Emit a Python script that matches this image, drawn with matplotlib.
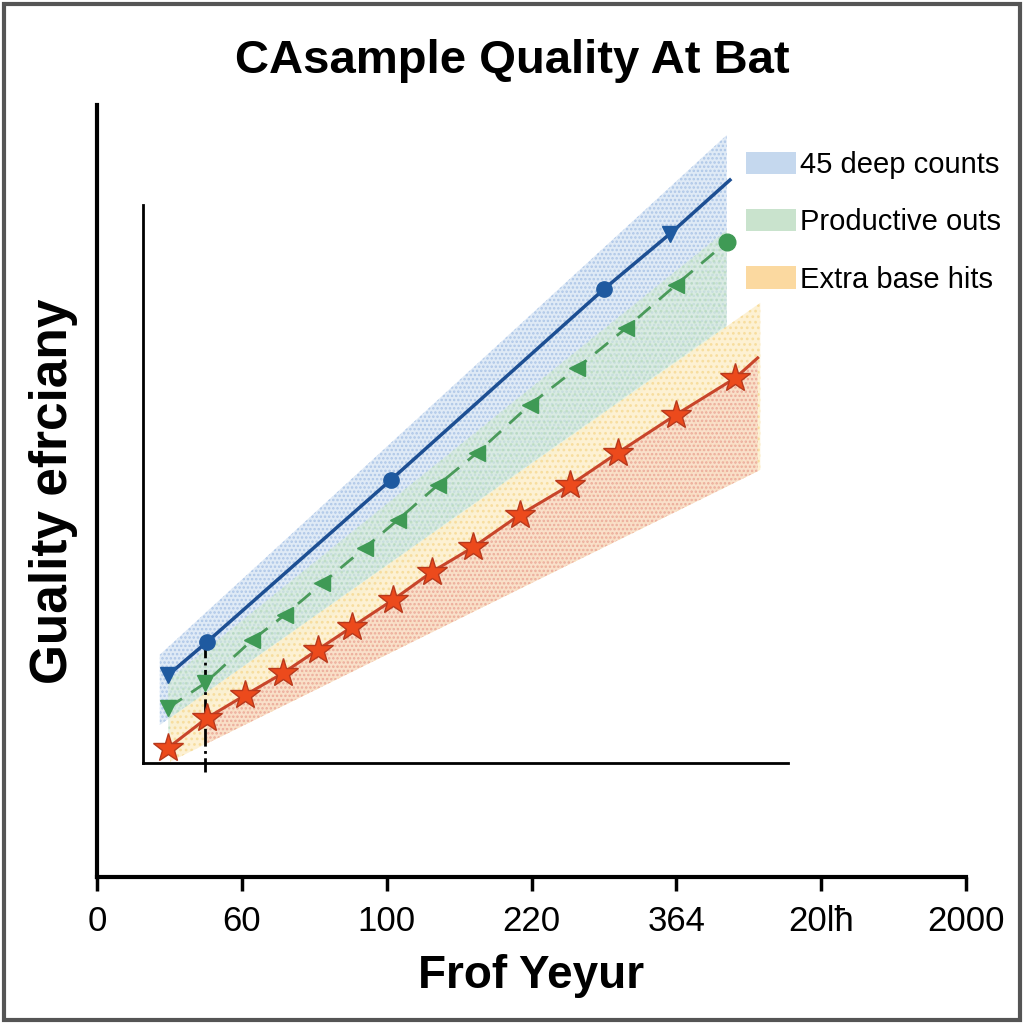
import numpy as np
import matplotlib
matplotlib.use("Agg")
import matplotlib.pyplot as plt
from matplotlib.patches import Patch, Rectangle

plt.rcParams['font.family'] = ['Liberation Sans', 'DejaVu Sans']
plt.rcParams['hatch.linewidth'] = 1.2

# outer axis tick labels
outer_ticks = ['0', '60', '100', '220', '364', '20l\u0127', '2000']

# series (inner plot units)
blue_x = [3.9, 9.9, 38.4, 71.5, 81.7, 91.0]
blue_y = [13.9, 19.1, 44.7, 74.9, 83.6, 92.1]
blue_m = ['v', 'o', 'o', 'o', 'v', None]

green_x = [3.9, 9.6, 16.9, 22.0, 27.8, 34.4, 39.5, 45.7, 51.8, 60.0, 67.3, 74.9, 82.6, 90.5]
green_y = [8.7, 12.6, 19.4, 23.4, 28.4, 34.0, 38.4, 43.9, 49.0, 56.6, 62.4, 68.7, 75.5, 82.3]
green_m = ['v', 'v', '<', '<', '<', '<', '<', '<', '<', '<', '<', '<', '<', 'o']

red_x = [3.9, 9.9, 15.8, 21.7, 27.1, 32.4, 38.8, 44.8, 51.2, 58.4, 66.2, 73.6, 82.6, 91.8, 95.3]
red_y = [2.4, 7.1, 10.7, 14.2, 17.9, 21.5, 25.8, 30.2, 34.1, 39.2, 43.9, 49.0, 55.0, 60.8, 64.0]

# shaded bands: [start, end]
blue_band_x = [2.6, 90.5]
blue_band_hi = [17.1, 99.2]
blue_band_lo = [6.0, 69.2]
green_band_x = [3.9, 90.5]
green_band_hi = [13.1, 84.2]
green_band_lo = [4.4, 68.4]
orange_band_x = [4.2, 95.7]
orange_band_hi = [7.1, 72.7]
orange_band_lo = [0.2, 46.3]

legend_labels = ['45 deep counts', 'Productive outs', 'Extra base hits']
legend_colors = ['#c5d8ee', '#c9e3cd', '#fbd9a0']

W = 1024
fig = plt.figure(figsize=(10.24, 10.24), dpi=100)
fig.patches.append(Rectangle((0.004, 0.004), 0.992, 0.992, transform=fig.transFigure,
                             fill=False, edgecolor='#555555', linewidth=3))

fig.text(0.5, 0.94, 'CAsample Quality At Bat', ha='center', va='center',
         fontsize=34, fontweight='bold')

# outer axes
ax0 = fig.add_axes([97 / W, (W - 877) / W, (966 - 97) / W, (877 - 105) / W])
ax0.set_xlim(0, 6)
ax0.set_ylim(0, 1)
ax0.set_xticks(range(7))
ax0.set_xticklabels(outer_ticks, fontsize=25)
ax0.set_yticks([])
for s in ['top', 'right']:
    ax0.spines[s].set_visible(False)
for s in ['left', 'bottom']:
    ax0.spines[s].set_linewidth(3)
ax0.tick_params(axis='x', length=10, width=2.5, pad=10)
ax0.set_xlabel('Frof Yeyur', fontsize=33, fontweight='bold', labelpad=12)
ax0.set_ylabel('Guality efrciany', fontsize=37, fontweight='bold', labelpad=14)
ax0.patch.set_alpha(0)

# inner axes
ax = fig.add_axes([143 / W, (W - 763) / W, (800 - 143) / W, (763 - 130) / W])
ax.set_xlim(0, 100 * 657 / 645)
ax.set_ylim(0, 100)
ax.patch.set_alpha(0)
ax.set_xticks([])
ax.set_yticks([])
for s in ['top', 'right']:
    ax.spines[s].set_visible(False)
ax.spines['left'].set_bounds(0, (763 - 205) / 6.33)
ax.spines['bottom'].set_bounds(0, 100)
for s in ['left', 'bottom']:
    ax.spines[s].set_linewidth(2)

ax.fill_between(blue_band_x, blue_band_lo, blue_band_hi, facecolor='#dce8f6',
                edgecolor='#a9c3e6', hatch='....', linewidth=0, alpha=0.9)
ax.fill_between(green_band_x, green_band_lo, green_band_hi, facecolor='#d6ecd6',
                edgecolor='#b2d8b8', hatch='...', linewidth=0, alpha=0.6)
ax.fill_between(orange_band_x, orange_band_lo, orange_band_hi, facecolor='#fdf0cf',
                edgecolor='#f7dc9a', hatch='...', linewidth=0, alpha=0.9)
rx = np.array(red_x)
olo = np.interp(rx, orange_band_x, orange_band_lo)
ax.fill_between(rx[1:], olo[1:], red_y[1:], facecolor='#f9dcc8',
                edgecolor='#e9a090', hatch='....', linewidth=0, alpha=0.8)

# vertical dash-dot marker line
ax.plot([9.6, 9.6], [19.4, -1.5], color='black', linestyle='-.', linewidth=2, clip_on=False)

ax.plot(blue_x, blue_y, color='#1d4f93', linewidth=2.5, clip_on=False)
for x, y, m in zip(blue_x, blue_y, blue_m):
    if m:
        ax.plot(x, y, marker=m, color='#1f5aa0', markersize=11, clip_on=False)

ax.plot(green_x, green_y, color='#4a9a5a', linewidth=2, linestyle=(0, (6, 4)), clip_on=False)
for x, y, m in zip(green_x, green_y, green_m):
    ax.plot(x, y, marker=m, color='#3f9a55', markersize=12, clip_on=False)

ax.plot(red_x, red_y, color='#c8452a', linewidth=2.2, clip_on=False)
ax.plot(red_x[:-1], red_y[:-1], linestyle='none', marker='*', markersize=22,
        markerfacecolor='#ec4a1c', markeredgecolor='#b8391c', clip_on=False)

handles = [Patch(facecolor=c, edgecolor='none') for c in legend_colors]
fig.legend(handles, legend_labels, loc='upper left', bbox_to_anchor=(720 / W, 1 - 125 / W),
           frameon=False, fontsize=21, handlelength=1.7, handleheight=0.8,
           labelspacing=1.0, handletextpad=0.15)

fig.savefig('out.png', dpi=100)
